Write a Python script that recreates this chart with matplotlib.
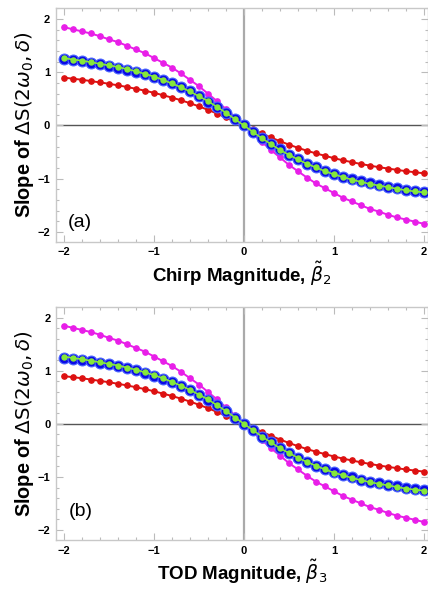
import numpy as np
import matplotlib
matplotlib.use("Agg")
import matplotlib.pyplot as plt
from matplotlib.ticker import MultipleLocator

# sampling grid (x from -2 to 2 in steps of 0.1)
x_vals = [-2.0, -1.9, -1.8, -1.7, -1.6, -1.5, -1.4, -1.3, -1.2, -1.1, -1.0,
          -0.9, -0.8, -0.7, -0.6, -0.5, -0.4, -0.3, -0.2, -0.1, 0.0,
          0.1, 0.2, 0.3, 0.4, 0.5, 0.6, 0.7, 0.8, 0.9, 1.0,
          1.1, 1.2, 1.3, 1.4, 1.5, 1.6, 1.7, 1.8, 1.9, 2.0]

# values (same in both panels)
magenta_vals = [1.85, 1.81, 1.77, 1.73, 1.68, 1.62, 1.57, 1.50, 1.43, 1.36, 1.27,
                1.18, 1.09, 0.98, 0.86, 0.74, 0.60, 0.46, 0.31, 0.16, 0.00,
                -0.16, -0.31, -0.46, -0.60, -0.74, -0.86, -0.98, -1.09, -1.18, -1.27,
                -1.36, -1.43, -1.50, -1.57, -1.62, -1.68, -1.73, -1.77, -1.81, -1.85]
blue_vals = [1.25, 1.23, 1.21, 1.18, 1.15, 1.12, 1.09, 1.05, 1.01, 0.96, 0.91,
             0.85, 0.79, 0.72, 0.64, 0.55, 0.45, 0.35, 0.24, 0.12, 0.00,
             -0.12, -0.24, -0.35, -0.45, -0.55, -0.64, -0.72, -0.79, -0.85, -0.91,
             -0.96, -1.01, -1.05, -1.09, -1.12, -1.15, -1.18, -1.21, -1.23, -1.25]
green_vals = [1.27, 1.24, 1.22, 1.19, 1.16, 1.13, 1.10, 1.06, 1.02, 0.97, 0.92,
              0.86, 0.79, 0.72, 0.64, 0.55, 0.46, 0.35, 0.24, 0.12, 0.00,
              -0.12, -0.24, -0.35, -0.46, -0.55, -0.64, -0.72, -0.79, -0.86, -0.92,
              -0.97, -1.02, -1.06, -1.10, -1.13, -1.16, -1.19, -1.22, -1.24, -1.26]
red_vals = [0.90, 0.88, 0.86, 0.835, 0.81, 0.785, 0.755, 0.725, 0.69, 0.655, 0.615,
            0.57, 0.525, 0.475, 0.42, 0.36, 0.295, 0.225, 0.15, 0.075, 0.00,
            -0.075, -0.15, -0.225, -0.295, -0.36, -0.42, -0.475, -0.525, -0.57, -0.615,
            -0.655, -0.69, -0.725, -0.755, -0.785, -0.81, -0.835, -0.86, -0.88, -0.90]

tick_vals = [-2, -1, 0, 1, 2]
tick_labels = ["\u22122", "\u22121", "0", "1", "2"]

panels = [
    ("(a)", -1.83, r"Chirp Magnitude, $\tilde{\beta}_2$", [0.130, 0.590, 0.870, 0.3965]),
    ("(b)", -1.66, r"TOD Magnitude, $\tilde{\beta}_3$", [0.131, 0.0847, 0.869, 0.3955]),
]

plt.rcParams["font.family"] = ["Liberation Sans", "DejaVu Sans"]
plt.rcParams["mathtext.fontset"] = "dejavusans"

fig = plt.figure(figsize=(4.28, 5.90), dpi=100)

for tag, tag_y, xlabel, rect in panels:
    ax = fig.add_axes(rect)
    ax.axhline(0, color="#555555", lw=1.0, zorder=1)
    ax.axvline(0, color="#aaaaaa", lw=1.6, zorder=1)

    ax.plot(x_vals, magenta_vals, "-o", color="#e81ee8", lw=1.4, ms=3.8, zorder=3)
    ax.plot(x_vals, red_vals, "-o", color="#dd1111", lw=1.4, ms=3.8, zorder=3)
    ax.plot(x_vals, blue_vals, "o", color="#0a0ae6", mec="#4d66ff", mew=0.8,
            ms=7.8, zorder=4)
    ax.plot(x_vals, green_vals, "-o", color="#86e83a", lw=1.2, ms=3.6, zorder=5)

    ax.set_xlim(-2.09, 2.045)
    ax.set_ylim(-2.19, 2.21)

    ax.set_xticks(tick_vals)
    ax.set_xticklabels(tick_labels, fontweight="bold", fontsize=8)
    ax.set_yticks(tick_vals)
    ax.set_yticklabels(tick_labels, fontweight="bold", fontsize=8)
    ax.xaxis.set_minor_locator(MultipleLocator(0.2))
    ax.yaxis.set_minor_locator(MultipleLocator(0.2))
    ax.tick_params(which="both", direction="in", top=True, right=True,
                   color="#bbbbbb", width=0.8, pad=4)
    ax.tick_params(which="major", length=5)
    ax.tick_params(which="minor", length=2.5)
    for sp in ax.spines.values():
        sp.set_color("#c8c8c8")
        sp.set_linewidth(1.0)

    ax.set_xlabel(xlabel, fontsize=13.5, fontweight="bold", labelpad=2)
    ax.set_ylabel(r"Slope of $\Delta\mathrm{S}(2\omega_0,\delta)$", fontsize=14.3,
                  fontweight="bold", labelpad=1)
    ax.text(-1.95, tag_y, tag, fontsize=14, ha="left", va="center")

fig.savefig("out.png", dpi=100)
